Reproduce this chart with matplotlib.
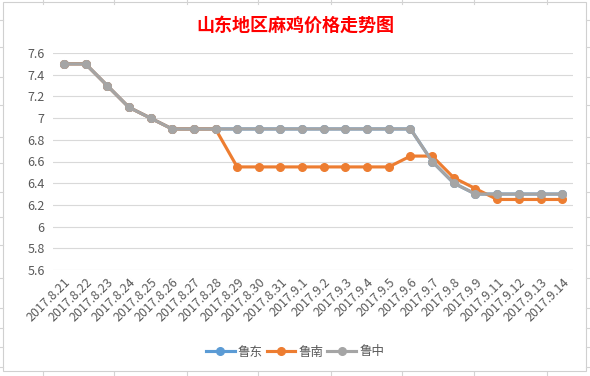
import matplotlib
matplotlib.use('Agg')
import matplotlib.pyplot as plt
from matplotlib.lines import Line2D

plt.rcParams['font.family'] = ['Noto Sans CJK SC', 'DejaVu Sans']

dates = ['2017.8.21', '2017.8.22', '2017.8.23', '2017.8.24', '2017.8.25', '2017.8.26',
         '2017.8.27', '2017.8.28', '2017.8.29', '2017.8.30', '2017.8.31', '2017.9.1',
         '2017.9.2', '2017.9.3', '2017.9.4', '2017.9.5', '2017.9.6', '2017.9.7',
         '2017.9.8', '2017.9.9', '2017.9.11', '2017.9.12', '2017.9.13', '2017.9.14']
ludong = [7.5, 7.5, 7.3, 7.1, 7.0, 6.9, 6.9, 6.9, 6.9, 6.9, 6.9, 6.9,
          6.9, 6.9, 6.9, 6.9, 6.9, 6.6, 6.4, 6.3, 6.3, 6.3, 6.3, 6.3]
lunan = [7.5, 7.5, 7.3, 7.1, 7.0, 6.9, 6.9, 6.9, 6.55, 6.55, 6.55, 6.55,
         6.55, 6.55, 6.55, 6.55, 6.65, 6.65, 6.45, 6.35, 6.25, 6.25, 6.25, 6.25]
luzhong = [7.5, 7.5, 7.3, 7.1, 7.0, 6.9, 6.9, 6.9, 6.9, 6.9, 6.9, 6.9,
           6.9, 6.9, 6.9, 6.9, 6.9, 6.6, 6.4, 6.3, 6.3, 6.3, 6.3, 6.3]
yticks = [5.6, 5.8, 6.0, 6.2, 6.4, 6.6, 6.8, 7.0, 7.2, 7.4, 7.6]
ytick_labels = ['5.6', '5.8', '6', '6.2', '6.4', '6.6', '6.8', '7', '7.2', '7.4', '7.6']

W, H = 590, 376
fig = plt.figure(figsize=(W / 100, H / 100), dpi=100)

# spreadsheet cell lines behind the chart
for x in [43, 114, 187, 258, 331, 402, 474, 547]:
    fig.add_artist(Line2D([x / W, x / W], [1, 1 - 4 / H], color='#d4d4d4', lw=0.8))
    fig.add_artist(Line2D([x / W, x / W], [0, 4 / H], color='#d4d4d4', lw=0.8))
for y in [20, 47, 77, 105, 137, 163, 192, 217, 245, 278, 308, 328, 347, 367]:
    fig.add_artist(Line2D([0, 3 / W], [1 - y / H, 1 - y / H], color='#d4d4d4', lw=0.8))
    fig.add_artist(Line2D([586 / W, 1], [1 - y / H, 1 - y / H], color='#d4d4d4', lw=0.8))
fig.add_artist(plt.Rectangle((3 / W, 1 - 371 / H), 583 / W, 369 / H, fill=False,
                             edgecolor='#d0d0d0', lw=0.8))

ax = fig.add_axes([53 / W, 1 - 270 / H, 520 / W, 217 / H])
x = range(len(dates))
ax.plot(x, ludong, color='#5B9BD5', lw=2.25, marker='o', ms=5.5, label='鲁东')
ax.plot(x, lunan, color='#ED7D31', lw=2.25, marker='o', ms=5.5, label='鲁南')
ax.plot(x, luzhong, color='#A5A5A5', lw=2.25, marker='o', ms=5.5, label='鲁中')

ax.set_xlim(-0.5, len(dates) - 0.5)
ax.set_ylim(5.6, 7.6)
ax.set_yticks(yticks)
ax.set_yticklabels(ytick_labels)
ax.set_xticks(list(x))
ax.set_xticklabels(dates, rotation=45, ha='right', rotation_mode='anchor')
ax.tick_params(length=0, colors='#595959', labelsize=9)
ax.tick_params(axis='y', pad=6)
ax.tick_params(axis='x', pad=4)
ax.grid(axis='y', color='#d9d9d9', lw=0.8)
ax.set_axisbelow(True)
for s in ax.spines.values():
    s.set_visible(False)

fig.text(0.5, 1 - 25 / H, '山东地区麻鸡价格走势图', ha='center', va='center',
         color='#ff0000', fontsize=13, fontweight='bold')

fig.legend(loc='center', bbox_to_anchor=(0.5, 1 - 352 / H), ncol=3, frameon=False,
           fontsize=9, handlelength=2.3, handletextpad=0.25, columnspacing=0.3,
           labelcolor='#595959')

fig.savefig('out.png', dpi=100)
